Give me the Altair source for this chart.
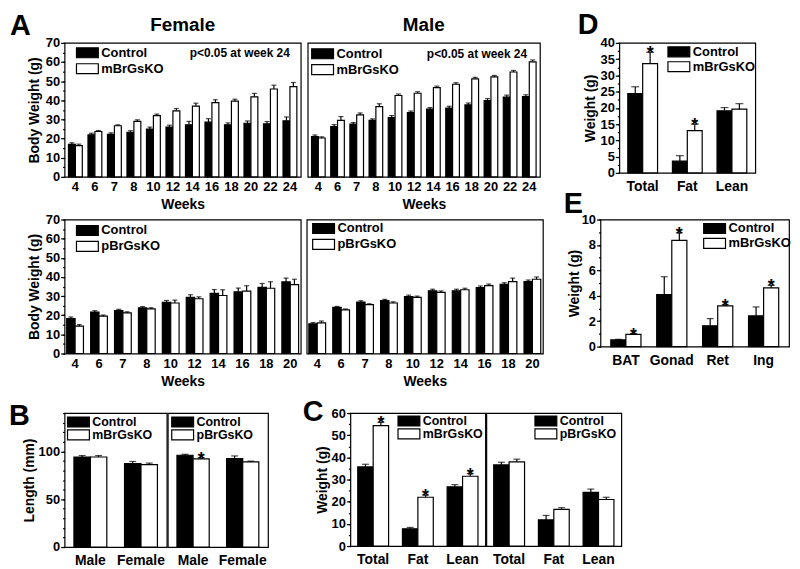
import altair as alt
import pandas as pd

FONT = "Liberation Sans"

# ---------------- data ----------------
weeks_top = ["4", "6", "7", "8", "10", "12", "14", "16", "18", "20", "22", "24"]
weeks_bot = ["4", "6", "7", "8", "10", "12", "14", "16", "18", "20"]

fem_top_ctrl = [17.0, 22.0, 22.2, 23.3, 25.0, 26.0, 27.2, 28.6, 27.2, 28.0, 27.7, 29.3]
fem_top_ctrl_err = [0.8, 0.8, 0.8, 0.8, 1.0, 1.0, 1.8, 1.8, 1.0, 1.2, 1.2, 2.0]
fem_top_ko = [16.3, 23.7, 26.7, 29.0, 32.0, 34.5, 37.0, 38.8, 39.6, 41.8, 45.9, 47.1]
fem_top_ko_err = [0.8, 0.5, 0.5, 0.8, 0.8, 1.2, 1.5, 1.5, 1.0, 1.8, 2.0, 2.2]

male_top_ctrl = [21.1, 26.3, 27.6, 29.5, 31.0, 33.6, 35.4, 35.9, 37.6, 39.9, 41.7, 41.9]
male_top_ctrl_err = [0.8, 1.0, 0.8, 0.8, 1.0, 0.8, 0.8, 1.0, 1.0, 1.0, 1.0, 1.0]
male_top_ko = [20.3, 29.5, 32.4, 36.7, 42.5, 43.7, 46.6, 48.4, 51.2, 52.2, 54.8, 60.1]
male_top_ko_err = [0.6, 2.0, 1.0, 1.5, 0.8, 0.8, 0.8, 0.8, 0.8, 0.8, 0.8, 1.0]

fem_bot_ctrl = [18.3, 21.7, 22.4, 23.8, 26.7, 29.3, 31.4, 32.2, 34.6, 37.4]
fem_bot_ctrl_err = [0.8, 0.7, 0.7, 0.7, 1.0, 1.4, 2.0, 2.0, 2.0, 2.0]
fem_bot_ko = [14.3, 19.5, 21.2, 23.3, 26.4, 28.6, 30.3, 32.6, 34.1, 36.0]
fem_bot_ko_err = [0.8, 0.6, 0.6, 0.6, 1.5, 1.0, 3.0, 2.8, 3.4, 2.8]

male_bot_ctrl = [15.5, 24.1, 26.9, 27.6, 29.8, 32.8, 32.8, 34.5, 36.2, 37.6]
male_bot_ctrl_err = [0.7, 0.5, 0.7, 0.7, 0.7, 0.8, 0.8, 0.8, 0.8, 0.8]
male_bot_ko = [16.0, 22.8, 25.5, 26.4, 29.3, 31.9, 33.3, 35.5, 37.6, 38.8]
male_bot_ko_err = [1.0, 0.5, 0.5, 0.6, 0.7, 0.8, 0.8, 0.8, 1.8, 1.2]

comp_cats = ["Total", "Fat", "Lean"]
d_ctrl = [24.4, 3.6, 19.1]
d_ctrl_err = [2.1, 1.7, 1.0]
d_ko = [33.6, 13.0, 19.6]
d_ko_err = [3.5, 2.0, 1.7]
d_sig = [True, True, False]

fat_cats = ["BAT", "Gonad", "Ret", "Ing"]
e_ctrl = [0.52, 4.1, 1.64, 2.42]
e_ctrl_err = [0.05, 1.4, 0.56, 0.7]
e_ko = [0.96, 8.36, 3.2, 4.62]
e_ko_err = [0.06, 0.6, 0.1, 0.2]
e_sig = [True, True, True, True]

sex_cats = ["Male", "Female"]
b1_ctrl = [94.1, 87.2]
b1_ctrl_err = [1.5, 2.2]
b1_ko = [94.1, 86.2]
b1_ko_err = [1.5, 1.5]
b1_sig = [False, False]
b2_ctrl = [95.9, 92.4]
b2_ctrl_err = [1.0, 2.8]
b2_ko = [92.1, 89.0]
b2_ko_err = [1.2, 0.8]
b2_sig = [True, False]

c1_ctrl = [35.7, 7.8, 26.7]
c1_ctrl_err = [1.2, 0.6, 1.0]
c1_ko = [54.3, 22.0, 31.5]
c1_ko_err = [1.5, 1.0, 1.2]
c1_sig = [True, True, True]
c2_ctrl = [36.6, 11.8, 24.2]
c2_ctrl_err = [1.2, 2.0, 1.5]
c2_ko = [38.0, 16.5, 21.0]
c2_ko_err = [1.2, 0.8, 1.0]
c2_sig = [False, False, False]

no_sig12 = [False] * 12
no_sig10 = [False] * 10

GROUP_FILLS = ["black", "white"]


# ---------------- helpers ----------------
def ann(txt, x, y, size, align="left", baseline="top", opacity=1.0):
    d = pd.DataFrame({"t": [txt]})
    return alt.Chart(d).mark_text(
        font=FONT, fontWeight="bold", fontSize=size, align=align,
        baseline=baseline, color="black", opacity=opacity
    ).encode(x=alt.value(x), y=alt.value(y), text="t:N")


def anchor(x, y, baseline="top"):
    # invisible layout anchor (fixes the bounds of each panel)
    return ann(".", x, y, 1, baseline=baseline, opacity=0.0)


def key(groups, lx, ly1, step, fs=13):
    """Legend key drawn inside the panel (swatch + label per group)."""
    out = []
    for i, (g, f) in enumerate(zip(groups, GROUP_FILLS)):
        yc = ly1 + i * step
        d = pd.DataFrame({"t": [g]})
        out.append(alt.Chart(d).mark_rect(fill=f, stroke="black", strokeWidth=1.2).encode(
            x=alt.value(lx), x2=alt.value(lx + 22),
            y=alt.value(yc - 5), y2=alt.value(yc + 5)))
        out.append(alt.Chart(d).mark_text(
            font=FONT, fontWeight="bold", fontSize=fs, align="left",
            baseline="middle", color="black").encode(
            x=alt.value(lx + 25), y=alt.value(yc), text="t:N"))
    return out


def panel(cats, ko_name, ctrl, ctrl_err, ko, ko_err, sig, w, h, ydom, major,
          minor, ytitle, show_y, xtitle, pi, po, cap, leg, xfs, xpad,
          texts, tp=4):
    groups = ["Control", ko_name]
    rows = []
    for i, c in enumerate(cats):
        rows.append(dict(cat=c, grp="Control", val=ctrl[i],
                         top=ctrl[i] + ctrl_err[i], star=""))
        rows.append(dict(cat=c, grp=ko_name, val=ko[i],
                         top=ko[i] + ko_err[i], star="*" if sig[i] else ""))
    df = pd.DataFrame(rows)
    base = alt.Chart(df)

    x = alt.X("cat:N", sort=cats,
              scale=alt.Scale(paddingInner=pi, paddingOuter=po),
              axis=alt.Axis(title=xtitle if xtitle else None, labelAngle=0,
                            ticks=False, tickSize=0, domain=False,
                            labelPadding=xpad, labelFontSize=xfs,
                            labelOverlap=False,
                            titleFontSize=14, titlePadding=4))
    xo = alt.XOffset("grp:N", sort=groups,
                     scale=alt.Scale(domain=groups, paddingInner=0,
                                     paddingOuter=0))
    yscale = alt.Scale(domain=ydom, nice=False, zero=True)
    if show_y:
        n = int(round((ydom[1] - ydom[0]) / major))
        vals = [ydom[0] + i * major for i in range(n + 1)]
        yaxis = alt.Axis(values=vals, labelOverlap=False, orient="left",
                         tickSize=4, labelPadding=1, domain=False, grid=False,
                         labelFontSize=13, title=ytitle, titleFontSize=14,
                         titlePadding=tp)
        m = int(round((ydom[1] - ydom[0]) / minor))
        mvals = [ydom[0] + i * minor for i in range(m + 1)]
        minor_axis = alt.Axis(values=mvals, labels=False, title=None,
                              orient="left", tickSize=2, domain=False,
                              grid=False)
    else:
        yaxis = None
        minor_axis = None

    bars = base.mark_bar(stroke="black", strokeWidth=1.2).encode(
        x=x, xOffset=xo,
        y=alt.Y("val:Q", scale=yscale, axis=yaxis),
        fill=alt.Fill("grp:N", sort=groups,
                      scale=alt.Scale(domain=groups, range=GROUP_FILLS),
                      legend=None),
    )
    err = base.mark_rule(color="black", strokeWidth=1.2).encode(
        x=x, xOffset=xo, y=alt.Y("val:Q", axis=None), y2="top:Q")
    caps = base.mark_tick(color="black", thickness=1.2, size=cap).encode(
        x=x, xOffset=xo, y=alt.Y("top:Q", axis=None))
    stars = base.mark_text(font=FONT, fontWeight="bold", fontSize=18,
                           baseline="alphabetic", dy=7, color="black").encode(
        x=x, xOffset=xo, y=alt.Y("top:Q", axis=None), text="star:N")
    layers = [bars, err, caps, stars]
    if show_y:
        mticks = base.mark_point(opacity=0).encode(
            x=x, xOffset=xo, y=alt.Y("val:Q", axis=minor_axis))
        layers.append(mticks)
    lx, ly1, step, fs = leg
    ch = alt.layer(*layers, *key(groups, lx, ly1, step, fs), *texts).properties(
        width=w, height=h)
    if show_y:
        ch = ch.resolve_axis(y="independent")
    return ch


RES = dict(fill="independent", xOffset="independent")

# ---------------- panels ----------------
p_ftop = panel(weeks_top, "mBrGsKO", fem_top_ctrl, fem_top_ctrl_err, fem_top_ko,
               fem_top_ko_err, no_sig12, 238, 135, [0, 70], 10, 5,
               "Body Weight (g)", True, "Weeks", 0.29, 0.2, 5, (12, 10, 16, 13), 13, 4,
               [ann("A", -55, -31, 29),
                ann("Female", 119, -18, 19, align="center", baseline="middle"),
                ann("p<0.05 at week 24", 227, 10, 12, align="right", baseline="middle"),
                anchor(-55, -32), anchor(0, 173, "bottom")])

p_mtop = panel(weeks_top, "mBrGsKO", male_top_ctrl, male_top_ctrl_err, male_top_ko,
               male_top_ko_err, no_sig12, 234, 135, [0, 70], 10, 5,
               None, False, "Weeks", 0.29, 0.2, 5, (4, 11, 16, 13), 13, 4,
               [ann("Male", 117, -18, 19, align="center", baseline="middle"),
                ann("p<0.05 at week 24", 221, 11, 12, align="right", baseline="middle"),
                anchor(0, -32), anchor(0, 173, "bottom")])

p_d = panel(comp_cats, "mBrGsKO", d_ctrl, d_ctrl_err, d_ko, d_ko_err, d_sig,
            137, 131, [0, 40], 5, 2.5, "Weight (g)", True, None, 0.333, 0.19, 8,
            (49, 9, 15, 13), 14, 7,
            [ann("D", -42, -32, 29), anchor(0, -36), anchor(0, 169, "bottom")], tp=3)

p_fbot = panel(weeks_bot, "pBrGsKO", fem_bot_ctrl, fem_bot_ctrl_err, fem_bot_ko,
               fem_bot_ko_err, no_sig10, 238, 135, [0, 70], 10, 5,
               "Body Weight (g)", True, "Weeks", 0.3, 0.09, 5, (12, 11, 16, 13), 13, 4,
               [anchor(-56, -28), anchor(0, 174, "bottom")])

p_mbot = panel(weeks_bot, "pBrGsKO", male_bot_ctrl, male_bot_ctrl_err, male_bot_ko,
               male_bot_ko_err, no_sig10, 238, 135, [0, 70], 10, 5,
               None, False, "Weeks", 0.3, 0.09, 5, (6, 9, 16, 13), 13, 4,
               [anchor(0, -28), anchor(0, 174, "bottom")])

p_e = panel(fat_cats, "mBrGsKO", e_ctrl, e_ctrl_err, e_ko, e_ko_err, e_sig,
            190, 128, [0, 10], 2, 1, "Weight (g)", True, None, 0.343, 0.225, 7,
            (104, 9, 15, 13), 14, 7,
            [ann("E", -37, -30, 29), anchor(0, -32), anchor(0, 170, "bottom")], tp=0)

p_b1 = panel(sex_cats, "mBrGsKO", b1_ctrl, b1_ctrl_err, b1_ko, b1_ko_err, b1_sig,
             103, 135, [0, 140], 50, 10, "Length (mm)", True, None, 0.35, 0.185, 7,
             (3, 9, 13, 12.5), 14, 7,
             [ann("B", -56, -11, 29), anchor(-56, -47)], tp=2)

p_b2 = panel(sex_cats, "pBrGsKO", b2_ctrl, b2_ctrl_err, b2_ko, b2_ko_err, b2_sig,
             101, 135, [0, 140], 50, 10, None, False, None, 0.35, 0.185, 7,
             (4, 9, 13, 12.5), 14, 7, [anchor(0, -47)])

p_c1 = panel(comp_cats, "mBrGsKO", c1_ctrl, c1_ctrl_err, c1_ko, c1_ko_err, c1_sig,
             136, 134, [0, 60], 10, 5, "Weight (g)", True, None, 0.31, 0.165, 7,
             (48, 8, 13, 12.5), 14, 7,
             [ann("C", -48, -15, 29), anchor(0, -48)], tp=2)

p_c2 = panel(comp_cats, "pBrGsKO", c2_ctrl, c2_ctrl_err, c2_ko, c2_ko_err, c2_sig,
             136, 134, [0, 60], 10, 5, None, False, None, 0.31, 0.165, 7,
             (49, 8, 13, 12.5), 14, 7, [anchor(0, -48)])

row1 = alt.hconcat(
    alt.hconcat(p_ftop, p_mtop, spacing=5).resolve_scale(**RES),
    p_d, spacing=36).resolve_scale(**RES)
row2 = alt.hconcat(
    alt.hconcat(p_fbot, p_mbot, spacing=4).resolve_scale(**RES),
    p_e, spacing=19).resolve_scale(**RES)
row3 = alt.hconcat(
    alt.hconcat(p_b1, p_b2, spacing=-1).resolve_scale(**RES),
    alt.hconcat(p_c1, p_c2, spacing=-1).resolve_scale(**RES),
    spacing=33).resolve_scale(**RES)

chart = alt.vconcat(row1, row2, row3, spacing=-29).resolve_scale(**RES).properties(
    padding={"left": 0, "top": -4, "right": 0, "bottom": 0}
).configure_view(
    stroke="black", strokeWidth=1.2
).configure_axis(
    labelFont=FONT, titleFont=FONT, labelFontWeight="bold",
    titleFontWeight="bold", labelColor="black", titleColor="black",
    tickColor="black", tickWidth=1.2, grid=False
)

chart.save("out.html", embed_options={"renderer": "svg", "actions": False})
